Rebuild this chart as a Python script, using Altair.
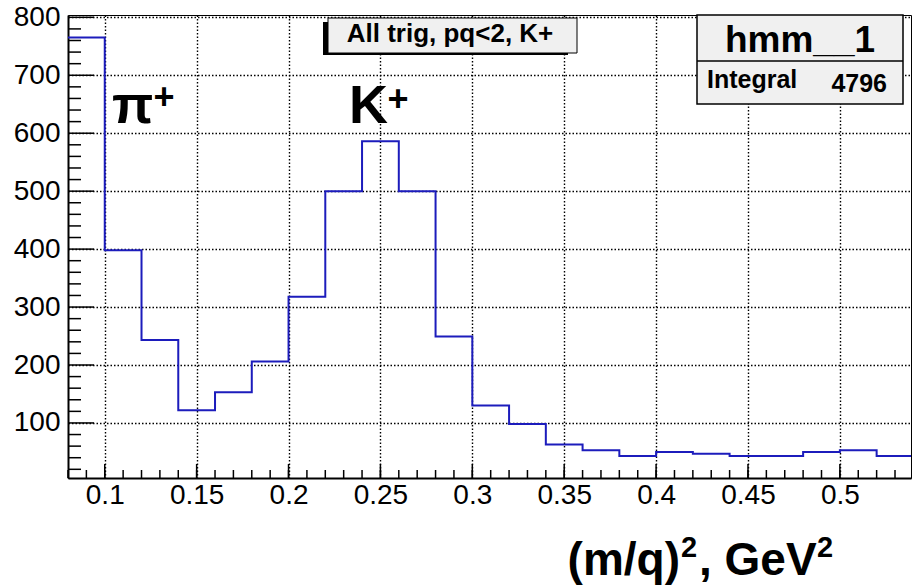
import altair as alt
import pandas as pd

# ---- data ----
bin_lo = [0.08, 0.10, 0.12, 0.14, 0.16, 0.18, 0.20, 0.22, 0.24, 0.26, 0.28, 0.30,
          0.32, 0.34, 0.36, 0.38, 0.40, 0.42, 0.44, 0.46, 0.48, 0.50, 0.52]
counts = [765, 398, 243, 122, 153, 206, 318, 500, 586, 500, 249, 130,
          98, 63, 53, 43, 50, 47, 43, 43, 50, 53, 43]
last_edge = 0.54

x_major = [0.1, 0.15, 0.2, 0.25, 0.3, 0.35, 0.4, 0.45, 0.5]
x_minor = [0.08, 0.09, 0.10, 0.11, 0.12, 0.13, 0.14, 0.15, 0.16, 0.17, 0.18, 0.19,
           0.20, 0.21, 0.22, 0.23, 0.24, 0.25, 0.26, 0.27, 0.28, 0.29, 0.30, 0.31,
           0.32, 0.33, 0.34, 0.35, 0.36, 0.37, 0.38, 0.39, 0.40, 0.41, 0.42, 0.43,
           0.44, 0.45, 0.46, 0.47, 0.48, 0.49, 0.50, 0.51, 0.52, 0.53]
y_major = [100, 200, 300, 400, 500, 600, 700, 800]
y_minor = [20, 40, 60, 80, 120, 140, 160, 180, 220, 240, 260, 280, 320, 340, 360, 380,
           420, 440, 460, 480, 520, 540, 560, 580, 620, 640, 660, 680, 720, 740, 760, 780]

hist_title = "hmm__1"
integral_label = "Integral"
integral_value = "4796"
sel_label = "All trig, pq<2, K+"
x_title_a = "(m/q)"
x_title_b = ", GeV"
sup2 = "2"

# ---- layout ----
W, H = 843, 463
FONT = "Liberation Sans"
xs = alt.Scale(domain=[0.08, 0.5387], nice=False, zero=False)
ys = alt.Scale(domain=[5, 804], nice=False, zero=False)

xaxis = alt.Axis(values=x_major, format="~g", grid=True, ticks=False, tickSize=0,
                 labelPadding=3, labelFontSize=28, labelFont=FONT, labelColor="black",
                 domainColor="black", domainWidth=2, title=None,
                 gridColor="black", gridDash=[1.5, 2], gridWidth=1.4, labelFlush=False)
yaxis = alt.Axis(values=y_major, format="d", grid=True, ticks=False, tickSize=0,
                 labelPadding=8, labelFontSize=28, labelFont=FONT, labelColor="black",
                 domainColor="black", domainWidth=2, title=None,
                 gridColor="black", gridDash=[1.5, 2], gridWidth=1.4, labelFlush=False)


def X():
    return alt.X("x:Q", scale=xs, axis=xaxis, title=None)


def Y():
    return alt.Y("y:Q", scale=ys, axis=yaxis, title=None)


line_df = pd.DataFrame({"x": bin_lo + [last_edge], "y": counts + [counts[-1]]})
one = pd.DataFrame({"d": [0]})

hist = alt.Chart(line_df).mark_line(
    interpolate="step-after", color="#1c1cbc", strokeWidth=2, clip=True
).encode(x=X(), y=Y())

xmaj = alt.Chart(pd.DataFrame({"x": x_major})).mark_rule(color="black", strokeWidth=1.5).encode(
    x=X(), y=alt.value(H), y2=alt.value(H - 14))
xmin = alt.Chart(pd.DataFrame({"x": x_minor})).mark_rule(color="black", strokeWidth=1.5).encode(
    x=X(), y=alt.value(H), y2=alt.value(H - 8))
ymaj = alt.Chart(pd.DataFrame({"y": y_major})).mark_rule(color="black", strokeWidth=1.5).encode(
    y=Y(), x=alt.value(0), x2=alt.value(26))
ymin = alt.Chart(pd.DataFrame({"y": y_minor})).mark_rule(color="black", strokeWidth=1.5).encode(
    y=Y(), x=alt.value(0), x2=alt.value(13))


def label(text, x, y, size, align="left", baseline="alphabetic", weight="bold"):
    return alt.Chart(one).mark_text(text=text, font=FONT, fontSize=size, fontWeight=weight,
                                    align=align, baseline=baseline, color="black").encode(
        x=alt.value(x), y=alt.value(y))


# selection label box with shadow
shadow = alt.Chart(one).mark_rect(color="black").encode(
    x=alt.value(255), x2=alt.value(500), y=alt.value(7), y2=alt.value(40))
selbox = alt.Chart(one).mark_rect(fill="#f0f0f0", stroke="black", strokeWidth=1).encode(
    x=alt.value(260), x2=alt.value(509), y=alt.value(3), y2=alt.value(38))
seltext = label(sel_label, 382, 27, 26, align="center")

# stats box
statbox = alt.Chart(one).mark_rect(fill="#f0f0f0", stroke="black", strokeWidth=1.5).encode(
    x=alt.value(629), x2=alt.value(835), y=alt.value(0), y2=alt.value(89))
statdiv = alt.Chart(one).mark_rule(color="black", strokeWidth=1.5).encode(
    x=alt.value(629), x2=alt.value(835), y=alt.value(46))
stattitle = label(hist_title, 732, 37, 37, align="center")
statname = label(integral_label, 639, 73, 25)
statval = label(integral_value, 819, 77, 25, align="right")

# particle annotations
pi_t = label("\u03c0", 44, 108, 54)
pi_p = label("+", 96, 83, 36, align="center", baseline="middle")
k_t = label("K", 281, 108, 54)
k_p = label("+", 330, 85, 36, align="center", baseline="middle")

# x-axis title with real superscripts
xt_a = label(x_title_a, 612, 560, 46, align="right")
xt_s1 = label(sup2, 613, 542, 29)
xt_b = label(x_title_b, 631, 560, 46)
xt_s2 = label(sup2, 749, 542, 29)

chart = alt.layer(
    hist, xmaj, xmin, ymaj, ymin,
    shadow, selbox, seltext,
    statbox, statdiv, stattitle, statname, statval,
    pi_t, pi_p, k_t, k_p, xt_a, xt_s1, xt_b, xt_s2,
).properties(
    width=W, height=H,
    autosize=alt.AutoSizeParams(type="none"),
    padding={"left": 68, "top": 15, "right": 1, "bottom": 107},
    background="white",
).configure_view(
    stroke="black", strokeWidth=1
)

chart.save("out.html", embed_options={"renderer": "svg", "actions": False})
